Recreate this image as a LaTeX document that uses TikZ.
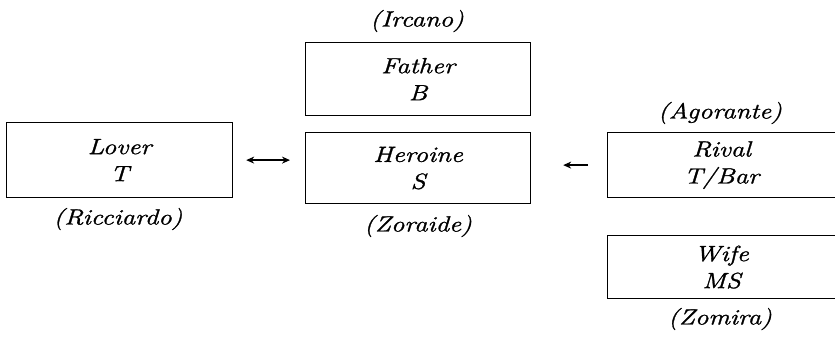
\documentclass[tikz,border=0pt]{standalone}
\usepackage{fontspec}
\setmainfont{Latin Modern Roman}[ItalicFeatures={FakeBold=1.3,FakeStretch=1.22}]
\usetikzlibrary{arrows.meta}
\begin{document}
\begin{tikzpicture}[x=1pt,y=-1pt,
  every node/.style={font=\fontsize{22}{27}\selectfont\itshape, inner sep=0pt},
  role/.style={draw, line width=1.2pt, align=center, minimum width=#1, anchor=north west},
  arr/.style={line width=1.6pt, -{Stealth[length=8pt,width=7pt]}}
]
\useasboundingbox (0,0) rectangle (835,341);
\clip (0,0) rectangle (835,341);
\node[role=226pt, minimum height=75pt] (lover) at (6,122) {Lover\\T};
\node (ric) at (118,219) {(Ricciardo)};
\node[role=225pt, minimum height=73pt] (father) at (305,42) {Father\\B};
\node (irc) at (417,21) {(Ircano)};
\node[role=225pt, minimum height=71pt] (heroine) at (305,132) {Heroine\\S};
\node (zor) at (418,226) {(Zoraide)};
\node[role=250pt, minimum height=65pt] (rival) at (607,132) {\hspace*{-22pt}Rival\\\hspace*{-22pt}T/Bar};
\node (ago) at (720,113) {(Agorante)};
\node[role=250pt, minimum height=63pt] (wife) at (607,235) {\hspace*{-22pt}Wife\\\hspace*{-22pt}MS};
\node (zom) at (720,319) {(Zomira)};
\draw[arr, {Stealth[length=8pt,width=7pt]}-{Stealth[length=8pt,width=7pt]}, shorten <=13pt, shorten >=15pt] (lover.east) -- (lover.east -| heroine.west);
\draw[arr, shorten <=19pt, shorten >=32pt] (rival.west) -- (rival.west -| heroine.east);
\end{tikzpicture}
\end{document}
